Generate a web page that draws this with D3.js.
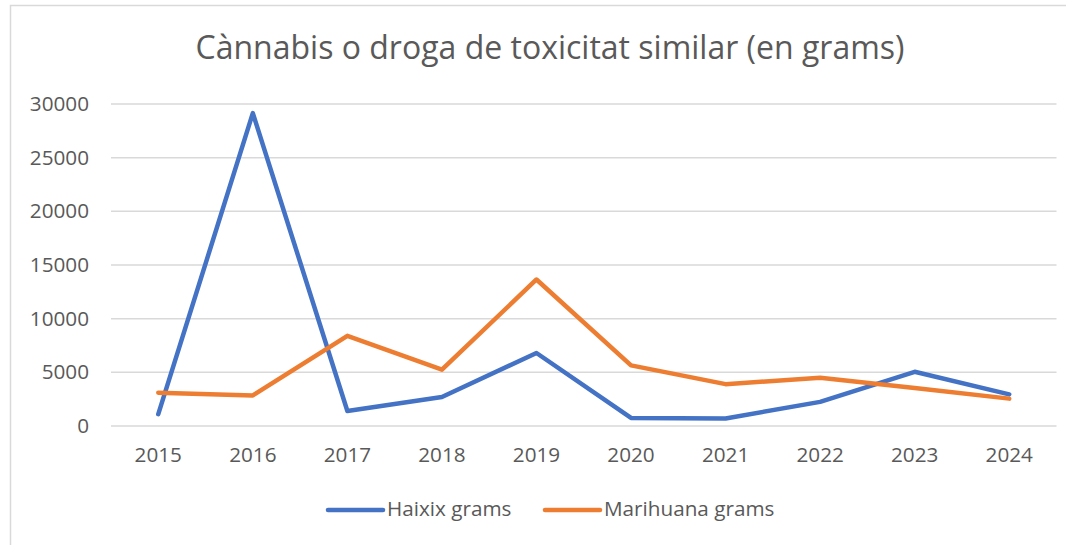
<!DOCTYPE html>
<html>
<head>
<meta charset="utf-8">
<script src="https://cdn.jsdelivr.net/npm/d3@7"></script>
<style>
  html, body { margin: 0; padding: 0; background: #fff; }
  #d3-container { width: 1066px; height: 545px; }
  text { font-family: "Open Sans", "Noto Sans", sans-serif; fill: #595959; }
</style>
</head>
<body>
<div id="d3-container"></div>
<script>
const years = ["2015", "2016", "2017", "2018", "2019", "2020", "2021", "2022", "2023", "2024"];
const haixix = [1100, 29150, 1400, 2700, 6800, 750, 700, 2250, 5050, 2950];
const marihuana = [3100, 2850, 8400, 5250, 13650, 5650, 3900, 4500, 3550, 2550];
const yTicks = [0, 5000, 10000, 15000, 20000, 25000, 30000];
const seriesNames = ["Haixix grams", "Marihuana grams"];
const colors = ["#4472C4", "#ED7D31"];

const width = 1066;
const height = 545;
const margin = { top: 104, bottom: 119, left: 111, right: 9.5 };

const svg = d3.select('#d3-container')
  .append('svg')
  .attr('width', width)
  .attr('height', height);

// chart frame
svg.append("rect")
  .attr("x", 10.5).attr("y", 5.5)
  .attr("width", width).attr("height", height)
  .attr("fill", "none")
  .attr("stroke", "#D9D9D9")
  .attr("stroke-width", 1.5);

svg.append("text")
  .attr("x", 550)
  .attr("y", 50)
  .attr("text-anchor", "middle")
  .attr("dominant-baseline", "middle")
  .attr("font-size", "32px")
  .text("Cànnabis o droga de toxicitat similar (en grams)");

const x = d3.scaleBand()
  .domain(years)
  .range([margin.left, width - margin.right]);

const y = d3.scaleLinear()
  .domain([0, 30000])
  .range([height - margin.bottom, margin.top]);

// gridlines
svg.append("g")
  .selectAll("line")
  .data(yTicks)
  .join("line")
    .attr("x1", margin.left)
    .attr("x2", width - margin.right)
    .attr("y1", d => y(d))
    .attr("y2", d => y(d))
    .attr("stroke", "#D9D9D9")
    .attr("stroke-width", 1.5);

function yAxis(g) {
  g.attr("transform", `translate(${margin.left - 22}, 0)`)
    .call(d3.axisLeft(y).tickValues(yTicks).tickSize(0).tickPadding(0).tickFormat(d3.format("d")))
    .call(g => g.select(".domain").remove())
    .attr("font-size", '20.7px')
    .attr("font-family", null);
}

function xAxis(g) {
  g.attr("transform", `translate(0,${height - margin.bottom + 21})`)
    .call(d3.axisBottom(x).tickSize(0).tickPadding(0))
    .call(g => g.select(".domain").remove())
    .attr("font-size", '20.7px')
    .attr("font-family", null);
  g.selectAll("text").attr("dy", "0.72em");
}

svg.append("g").call(xAxis);
svg.append("g").call(yAxis);
svg.selectAll(".tick text").attr("fill", "#595959");

const line = d3.line()
  .x((d, i) => x(years[i]) + x.bandwidth() / 2)
  .y(d => y(d));

[haixix, marihuana].forEach((values, k) => {
  svg.append("path")
    .datum(values)
    .attr("fill", "none")
    .attr("stroke", colors[k])
    .attr("stroke-width", 4.5)
    .attr("stroke-linejoin", "round")
    .attr("stroke-linecap", "round")
    .attr("d", line);
});

// legend
const legendX = [328, 545];
const legend = svg.append("g");
seriesNames.forEach((name, k) => {
  legend.append("line")
    .attr("x1", legendX[k]).attr("x2", legendX[k] + 55)
    .attr("y1", 510).attr("y2", 510)
    .attr("stroke", colors[k])
    .attr("stroke-width", 4.5)
    .attr("stroke-linecap", "round");
  legend.append("text")
    .attr("x", legendX[k] + 59)
    .attr("y", 510)
    .attr("dominant-baseline", "middle")
    .attr("font-size", "20.7px")
    .text(name);
});
</script>
</body>
</html>
